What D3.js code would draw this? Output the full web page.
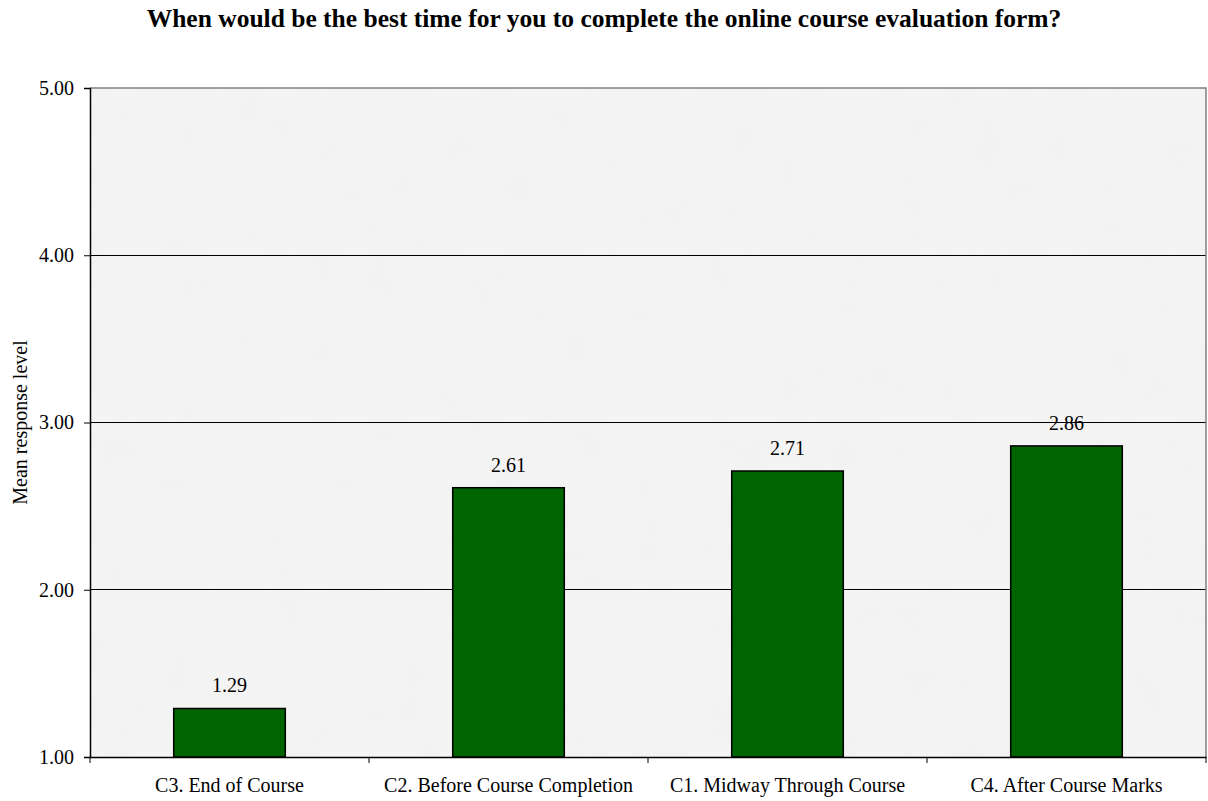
<!DOCTYPE html>
<html><head><meta charset="utf-8">
<script src="https://cdn.jsdelivr.net/npm/d3@7"></script>
<style>body{margin:0;background:#fff;}svg{display:block;}</style>
</head><body>
<script>
const categories = ["C3. End of Course","C2. Before Course Completion","C1. Midway Through Course","C4. After Course Marks"];
const values = [1.29, 2.61, 2.71, 2.86];
const yTicks = [1, 2, 3, 4, 5];
const title = "When would be the best time for you to complete the online course evaluation form?";
const yLabel = "Mean response level";

const W = 1208, H = 801;
const m = {l: 90, r: 2, t: 88, b: 44};
const FONT = "'Liberation Serif','Times New Roman',serif";
const svg = d3.select("body").append("svg").attr("width", W).attr("height", H)
  .style("font-family", FONT);

const defs = svg.append("defs");
const f = defs.append("filter").attr("id","tex").attr("x",0).attr("y",0).attr("width","100%").attr("height","100%");
f.append("feTurbulence").attr("type","fractalNoise").attr("baseFrequency","0.03").attr("numOctaves",4).attr("seed",7).attr("result","n");
f.append("feColorMatrix").attr("in","n").attr("type","matrix")
  .attr("values","0 0 0 0 0.87  0 0 0 0 0.87  0 0 0 0 0.87  1.2 0 0 0 -0.5").attr("result","c");
f.append("feComposite").attr("in","c").attr("in2","SourceGraphic").attr("operator","in").attr("result","cc");
f.append("feMerge").call(s=>{s.append("feMergeNode").attr("in","SourceGraphic");s.append("feMergeNode").attr("in","cc");});

const x = d3.scaleBand().domain(categories).range([m.l, W - m.r]).paddingInner(0).paddingOuter(0);
const y = d3.scaleLinear().domain([1, 5]).range([H - m.b, m.t]);

svg.append("rect").attr("x", m.l).attr("y", m.t).attr("width", W - m.r - m.l).attr("height", H - m.b - m.t)
  .attr("fill", "#f4f4f4").attr("filter","url(#tex)");

// gridlines
svg.append("g").selectAll("line").data(yTicks.filter(d => d > 1 && d < 5)).join("line")
  .attr("x1", m.l).attr("x2", W - m.r).attr("y1", d => y(d)).attr("y2", d => y(d))
  .attr("stroke", "#000").attr("stroke-width", 1).attr("shape-rendering","crispEdges");

// top & right border
svg.append("path").attr("d", `M${m.l},${y(5)}H${W - m.r}V${y(1)}`).attr("fill","none")
  .attr("stroke","#808080").attr("stroke-width",1.5);

// bars
const bw = x.bandwidth() * 0.4;
svg.append("g").selectAll("rect").data(values).join("rect")
  .attr("x", (d, i) => x(categories[i]) + (x.bandwidth() - bw) / 2)
  .attr("y", d => y(d)).attr("width", bw).attr("height", d => y(1) - y(d))
  .attr("fill", "#006400").attr("stroke", "#000").attr("stroke-width", 1.5);

// value labels
svg.append("g").selectAll("text").data(values).join("text")
  .attr("x", (d, i) => x(categories[i]) + x.bandwidth() / 2)
  .attr("y", d => y(d) - 16).attr("text-anchor", "middle").attr("font-size", 20)
  .text(d => d.toFixed(2));

// y axis
const ya = svg.append("g").attr("transform", `translate(${m.l},0)`)
  .call(d3.axisLeft(y).tickValues(yTicks).tickFormat(d3.format(".2f")).tickSize(6).tickPadding(10));
ya.select(".domain").attr("stroke","#000").attr("stroke-width",1.5);
ya.selectAll("text").attr("font-size", 20).attr("font-family", FONT).attr("fill","#000");

// x axis
const xa = svg.append("g").attr("transform", `translate(0,${y(1)})`)
  .call(d3.axisBottom(x).tickSize(0).tickPadding(20));
xa.select(".domain").attr("stroke","#000").attr("stroke-width",1.5);
xa.selectAll("text").attr("font-size", 20).attr("font-family", FONT).attr("fill","#000").attr("dy","0.75em");
svg.append("g").selectAll("line").data(categories.concat(["end"])).join("line")
  .attr("x1", (d, i) => i < categories.length ? x(d) : W - m.r)
  .attr("x2", (d, i) => i < categories.length ? x(d) : W - m.r)
  .attr("y1", y(1)).attr("y2", y(1) + 6).attr("stroke","#000").attr("stroke-width",1);

// title
svg.append("text").attr("x", 604).attr("y", 27).attr("text-anchor","middle")
  .attr("font-size", 25.5).attr("font-weight","bold").text(title);

// y label
svg.append("text").attr("transform", `translate(27,${(y(1)+y(5))/2}) rotate(-90)`)
  .attr("text-anchor","middle").attr("font-size", 20).text(yLabel);
</script>
</body></html>
